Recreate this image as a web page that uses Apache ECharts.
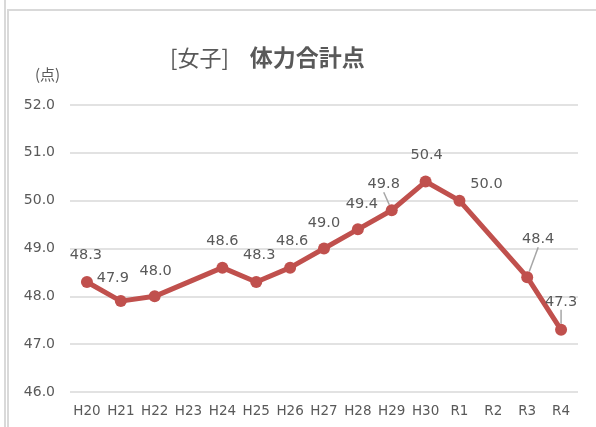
<!DOCTYPE html>
<html><head><meta charset="utf-8">
<script src="https://cdn.jsdelivr.net/npm/echarts@6/dist/echarts.min.js"></script>
<style>html,body{margin:0;padding:0;background:#fff}#c{width:596px;height:427px}</style>
</head><body><div id="c"></div>
<script>
const categories = ['H20','H21','H22','H23','H24','H25','H26','H27','H28','H29','H30','R1','R2','R3','R4'];
const values = [48.3, 47.9, 48.0, null, 48.6, 48.3, 48.6, 49.0, 49.4, 49.8, 50.4, 50.0, null, 48.4, 47.3];
const yTicks = [46, 47, 48, 49, 50, 51, 52];
const labelOffsets = [[-1,-8],[-8,-4],[1,-7],[0,0],[0,-8],[3,-8],[2,-8],[0,-7],[4,-7],[-8,-7],[1,-8],[27,2],[0,0],[11,-19],[0,-9]];
const guided = [9, 13, 14];

const chart = echarts.init(document.getElementById('c'), null, {renderer:'canvas'});
const txt = '#595959';
chart.setOption({
  animation: false,
  title: {
    text: '{a|[女子]}{b|体力合計点}',
    left: 165, top: 41,
    textStyle: {
      rich: {
        a: {fontSize: 22, fontWeight: 'normal', color: txt, fontFamily: 'Noto Sans CJK JP', padding: [0, 21, 0, 0]},
        b: {fontSize: 23, fontWeight: 'bold', color: txt, fontFamily: 'Noto Sans CJK JP'}
      }
    }
  },
  graphic: [
    {type:'line', shape:{x1:5, y1:0, x2:5, y2:427}, style:{stroke:'#d9d9d9', lineWidth:2}},
    {type:'rect', shape:{x:8, y:10, width:620, height:500}, style:{stroke:'#d9d9d9', lineWidth:2, fill:'none'}},
    {type:'text', left: 35, top: 67, style:{text:'(点)', fontSize:15, fill:txt, fontFamily:'Noto Sans CJK JP'}}
  ],
  grid: {left: 70, right: 18, top: 105, bottom: 35},
  xAxis: {
    type: 'category', data: categories, boundaryGap: true,
    axisLine: {show: false}, axisTick: {show: false},
    axisLabel: {color: txt, fontSize: 13.5, fontFamily: 'DejaVu Sans', margin: 12, interval: 0}
  },
  yAxis: {
    type: 'value', min: yTicks[0], max: yTicks[yTicks.length-1], interval: 1,
    axisLine: {show:false}, axisTick:{show:false},
    axisLabel: {color: txt, fontSize: 14, fontFamily: 'DejaVu Sans', margin: 15, formatter: v => v.toFixed(1)},
    splitLine: {lineStyle: {color: '#d9d9d9', width: 1.5}}
  },
  series: [{
    type: 'line',
    data: values.map((v, i) => ({
      value: v,
      labelLine: {show: guided.includes(i), lineStyle: {color: '#a6a6a6', width: 1.5}}
    })),
    connectNulls: true,
    symbol: 'circle', symbolSize: 12,
    lineStyle: {color: '#c0504d', width: 5},
    itemStyle: {color: '#c0504d'},
    label: {
      show: true, position: 'top', distance: 5,
      color: txt, fontSize: 14.5, fontFamily: 'DejaVu Sans',
      formatter: p => p.value == null ? '' : Number(p.value).toFixed(1)
    },
    labelLayout: p => ({dx: labelOffsets[p.dataIndex][0], dy: labelOffsets[p.dataIndex][1]})
  }]
});
</script></body></html>
